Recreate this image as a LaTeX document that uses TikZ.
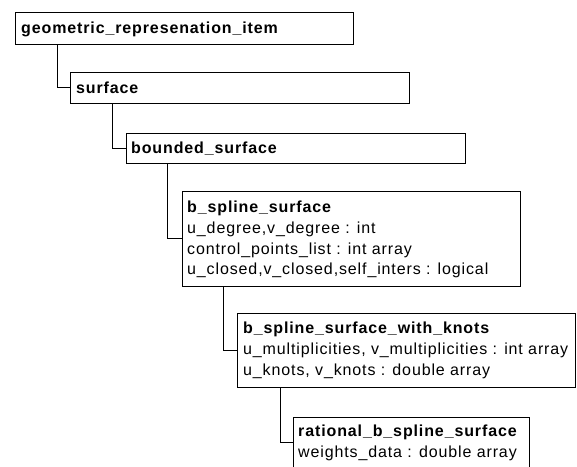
\documentclass[tikz,border=0pt]{standalone}
\usepackage{fontspec}
\setmainfont{Liberation Sans}[LetterSpace=5.5]
\begin{document}
\begin{tikzpicture}[x=1pt,y=-1pt,
  box/.style={draw=black, line width=1pt, inner sep=0pt, outer sep=0pt, anchor=north west},
  lbl/.style={inner sep=0pt, anchor=base west, font=\fontsize{16}{19}\selectfont},
  ttl/.style={inner sep=0pt, anchor=base west, font=\fontsize{16}{19}\selectfont\bfseries},
  conn/.style={draw=black, line width=1pt}]
\useasboundingbox (0,0) rectangle (577,466);
% boxes
\node[box, minimum width=338pt, minimum height=32pt] (b1) at (15,12) {};
\node[box, minimum width=339pt, minimum height=31pt] (b2) at (70,72) {};
\node[box, minimum width=339pt, minimum height=30pt] (b3) at (126,133) {};
\node[box, minimum width=338pt, minimum height=95pt] (b4) at (182,191) {};
\node[box, minimum width=338pt, minimum height=74pt] (b5) at (237,313) {};
\node[box, minimum width=236pt, minimum height=51pt] (b6) at (293,417) {};
% texts
\node[ttl] (t1) at (21,33) {geometric\_represenation\_item};
\node[ttl] (t2) at (76,93) {surface};
\node[ttl] (t3) at (131,153) {bounded\_surface};
\node[ttl] (t4a) at (187,212) {b\_spline\_surface};
\node[lbl] (t4b) at (187,233) {u\_degree,v\_degree : int};
\node[lbl] (t4c) at (187,254) {control\_points\_list : int array};
\node[lbl] (t4d) at (187,274) {u\_closed,v\_closed,self\_inters : logical};
\node[ttl] (t5a) at (243,333) {b\_spline\_surface\_with\_knots};
\node[lbl] (t5b) at (243,354) {u\_multiplicities, v\_multiplicities : int array};
\node[lbl] (t5c) at (243,375) {u\_knots, v\_knots : double array};
\node[ttl] (t6a) at (298,436) {rational\_b\_spline\_surface};
\node[lbl] (t6b) at (298,457) {weights\_data : double array};
% connectors
\draw[conn] ([xshift=42pt]b1.south west) |- (b2.west);
\draw[conn] ([xshift=42pt]b2.south west) |- (b3.west);
\draw[conn] ([xshift=41pt]b3.south west) |- (b4.west);
\draw[conn] ([xshift=41pt]b4.south west) |- (b5.west);
\draw[conn] ([xshift=43pt]b5.south west) |- (b6.west);
\end{tikzpicture}
\end{document}
